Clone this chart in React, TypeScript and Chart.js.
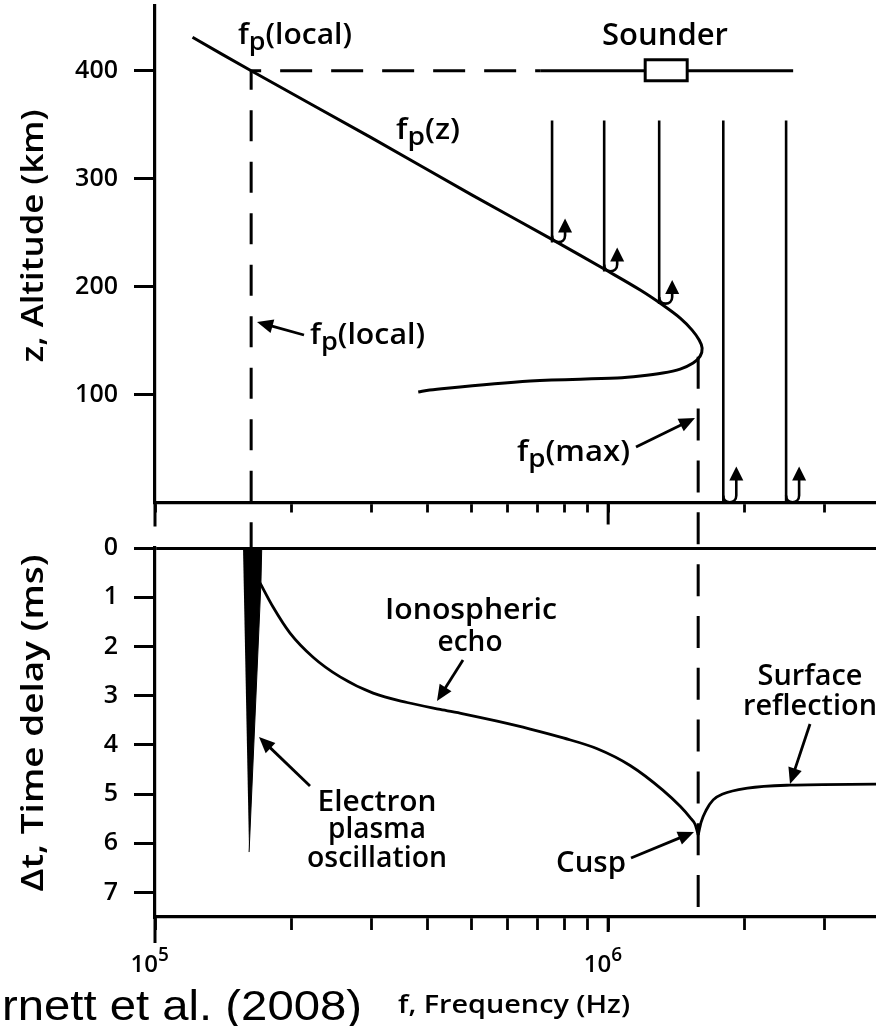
import React, { useEffect, useRef } from "react";
import { Chart, registerables } from "chart.js";

Chart.register(...registerables);

const W = 876;
const H = 1026;
const FONT = '"Open Sans", "DejaVu Sans", sans-serif';
const WEIGHT = "600";

// ---------------- data ----------------
// Frequency axis (Hz, log)
const X_MIN = 1e5;
const X_MAX = 3.9e6;
const X_TICKS = [1e5, 2e5, 3e5, 4e5, 5e5, 6e5, 7e5, 8e5, 9e5, 1e6, 2e6, 3e6];
const X_MAJOR = [1e5, 1e6];
const X_MAJOR_EXP = ["5", "6"];

// Upper panel: altitude (km)
const ALT_MAX = 460;
const ALT_TICKS = [100, 200, 300, 400];
const FPZ_FREQ = [1.21e5, 1.63e5, 3.0e5, 5.0e5, 7.5e5, 1.0e6, 1.177e6, 1.32e6, 1.442e6, 1.532e6, 1.588e6, 1.612e6, 1.596e6, 1.54e6, 1.442e6, 1.32e6, 1.177e6, 1.047e6, 6.73e5, 4.04e5, 3.81e5];
const FPZ_ALT = [431, 400, 338, 285, 244, 214.2, 196.8, 182.9, 170.8, 159.7, 150.5, 143.1, 135.6, 129.2, 123.6, 119.9, 117.1, 115.3, 112.5, 104.2, 102.3];
const FP_LOCAL = 1.63e5;
const FP_MAX = 1.58e6;
const FP_MAX_TOP_ALT = 135;
const GAP_ALT = -42;
const SOUNDER_ALT = 400;
const SOUNDER_FREQ = 1.343e6;
const SOUNDER_LINE_FREQ = [7.08e5, 2.56e6];
const RAY_FREQ = [7.52e5, 9.8e5, 1.296e6, 1.795e6, 2.47e6];
const RAY_TOP_ALT = 354;
const RAY_REFLECT_ALT = [241, 214, 184, 0, 0];

// Lower panel: time delay (ms)
const DELAY_MAX = 7.5;
const DELAY_TICKS = [0, 1, 2, 3, 4, 5, 6, 7];
const WEDGE_FREQ = [1.564e5, 1.72e5, 1.713e5, 1.613e5];
const WEDGE_DELAY = [0, 0, 0.71, 6.18];
const ECHO_FREQ = [1.705e5, 1.822e5, 1.986e5, 2.233e5, 2.562e5, 3.03e5, 3.6e5, 4.26e5, 4.786e5, 5.69e5, 6.73e5, 7.96e5, 9.46e5, 1.118e6, 1.32e6, 1.442e6, 1.517e6, 1.556e6, 1.58e6];
const ECHO_DELAY = [0.71, 1.2, 1.73, 2.22, 2.62, 2.95, 3.14, 3.28, 3.37, 3.52, 3.68, 3.86, 4.08, 4.42, 4.92, 5.25, 5.48, 5.62, 5.83];
const SURF_FREQ = [1.58e6, 1.604e6, 1.645e6, 1.705e6, 1.79e6, 2.03e6, 2.52e6, 3.9e6];
const SURF_DELAY = [5.83, 5.57, 5.33, 5.12, 5.0, 4.88, 4.82, 4.8];

// ---------------- helpers ----------------
type Pt = { x: number; y: number };
const zip = (xs: number[], ys: number[]): Pt[] => xs.map((x, i) => ({ x, y: ys[i] }));

type Run = { t: string; s: number; dy?: number };
type Label = { runs: Run[]; x: number; y: number; align: "left" | "center"; w: number; family?: string; weight?: string; rot?: number };

function drawLabel(ctx: CanvasRenderingContext2D, l: Label) {
  const family = l.family || FONT;
  const weight = l.weight || WEIGHT;
  ctx.save();
  let natural = 0;
  const ws = l.runs.map((r) => {
    ctx.font = `${weight} ${r.s}px ${family}`;
    const w = ctx.measureText(r.t).width;
    natural += w;
    return w;
  });
  const sx = l.w / natural;
  ctx.translate(l.x, l.y);
  if (l.rot) ctx.rotate(l.rot);
  ctx.scale(sx, 1);
  let cx = l.align === "center" ? -natural / 2 : 0;
  ctx.fillStyle = "#000";
  ctx.textAlign = "left";
  ctx.textBaseline = "alphabetic";
  l.runs.forEach((r, i) => {
    ctx.font = `${weight} ${r.s}px ${family}`;
    ctx.fillText(r.t, cx, r.dy || 0);
    cx += ws[i];
  });
  ctx.restore();
}

function drawArrow(ctx: CanvasRenderingContext2D, a: number[], head = 16, half = 7, lw = 2.8) {
  const [x1, y1, x2, y2] = a;
  const ang = Math.atan2(y2 - y1, x2 - x1);
  const c = Math.cos(ang);
  const s = Math.sin(ang);
  ctx.save();
  ctx.strokeStyle = "#000";
  ctx.fillStyle = "#000";
  ctx.lineWidth = lw;
  ctx.beginPath();
  ctx.moveTo(x1, y1);
  ctx.lineTo(x2 - c * head * 0.8, y2 - s * head * 0.8);
  ctx.stroke();
  ctx.beginPath();
  ctx.moveTo(x2, y2);
  ctx.lineTo(x2 - c * head + s * half, y2 - s * head - c * half);
  ctx.lineTo(x2 - c * head - s * half, y2 - s * head + c * half);
  ctx.closePath();
  ctx.fill();
  ctx.restore();
}

const fp = (tail: string, s = 28): Run[] => [
  { t: "f", s },
  { t: "p", s: s - 3, dy: 6 },
  { t: tail, s },
];

const TOP_LABELS: Label[] = [
  { runs: fp("(local)"), x: 238, y: 44, align: "left", w: 114 },
  { runs: fp("(z)"), x: 396, y: 139, align: "left", w: 64 },
  { runs: [{ t: "Sounder", s: 30 }], x: 665, y: 45, align: "center", w: 126 },
  { runs: fp("(local)"), x: 310, y: 344, align: "left", w: 115 },
  { runs: fp("(max)"), x: 517, y: 461, align: "left", w: 113 },
  { runs: [{ t: "z, Altitude (km)", s: 31 }], x: 43, y: 236, align: "center", w: 253, rot: -Math.PI / 2 },
];
const TOP_ARROWS = [
  [304, 335, 257, 322],
  [636, 447, 695, 418],
];

const BOT_LABELS: Label[] = [
  { runs: [{ t: "Ionospheric", s: 28 }], x: 471, y: 619, align: "center", w: 172 },
  { runs: [{ t: "echo", s: 28 }], x: 470, y: 651, align: "center", w: 65 },
  { runs: [{ t: "Surface", s: 28 }], x: 810, y: 685, align: "center", w: 105 },
  { runs: [{ t: "reflection", s: 28 }], x: 810, y: 715, align: "center", w: 134 },
  { runs: [{ t: "Electron", s: 28 }], x: 377, y: 811, align: "center", w: 119 },
  { runs: [{ t: "plasma", s: 28 }], x: 377, y: 838, align: "center", w: 98 },
  { runs: [{ t: "oscillation", s: 28 }], x: 377, y: 867, align: "center", w: 140 },
  { runs: [{ t: "Cusp", s: 28 }], x: 591, y: 872, align: "center", w: 70 },
  { runs: [{ t: "Δt, Time delay (ms)", s: 31 }], x: 43, y: 723, align: "center", w: 337, rot: -Math.PI / 2 },
  { runs: [{ t: "f, Frequency (Hz)", s: 25 }], x: 398, y: 1013, align: "left", w: 232 },
  { runs: [{ t: "rnett et al. (2008)", s: 42 }], x: 2, y: 1020, align: "left", w: 360, family: '"Liberation Sans", Arial, sans-serif', weight: "400" },
];
const BOT_ARROWS = [
  [463, 660, 437, 701],
  [810, 724, 790, 784],
  [310, 786, 259, 737],
  [631, 858, 694, 832],
];

const lineDs = (data: Pt[], extra: any = {}) => ({
  data,
  borderColor: "#000",
  backgroundColor: "#000",
  borderWidth: 3,
  pointRadius: 0,
  pointHoverRadius: 0,
  fill: false,
  tension: 0,
  ...extra,
});

const xScale = (tickLength: number, height: number) => ({
  type: "logarithmic",
  min: X_MIN,
  max: X_MAX,
  afterBuildTicks: (s: any) => {
    s.ticks = X_TICKS.map((v) => ({ value: v }));
  },
  afterFit: (s: any) => {
    s.height = height;
    s.paddingLeft = 0;
    s.paddingRight = 0;
  },
  ticks: { display: false, autoSkip: false },
  grid: { drawOnChartArea: false, drawTicks: true, tickLength, tickWidth: 2.8, tickColor: "#000" },
  border: { display: true, color: "#000", width: 3.2 },
});

const yTickFont = { family: "Open Sans", size: 25, weight: "600" };

function majorTicks(ctx: CanvasRenderingContext2D, chart: any, lens: number[]) {
  const x = chart.scales.x;
  const yb = chart.chartArea.bottom;
  ctx.save();
  ctx.strokeStyle = "#000";
  ctx.lineWidth = 3;
  X_MAJOR.forEach((v, i) => {
    const px = x.getPixelForValue(v);
    ctx.beginPath();
    ctx.moveTo(px, yb);
    ctx.lineTo(px, yb + lens[i]);
    ctx.stroke();
  });
  ctx.restore();
}

const topDecor = {
  id: "topDecor",
  afterDraw(chart: any) {
    const ctx = chart.ctx as CanvasRenderingContext2D;
    const x = chart.scales.x;
    const y = chart.scales.y;
    majorTicks(ctx, chart, [24, 22]);
    // sounder box
    const sx = x.getPixelForValue(SOUNDER_FREQ);
    const sy = y.getPixelForValue(SOUNDER_ALT);
    ctx.save();
    ctx.fillStyle = "#fff";
    ctx.strokeStyle = "#000";
    ctx.lineWidth = 3;
    ctx.fillRect(sx - 21, sy - 11, 42, 21);
    ctx.strokeRect(sx - 21, sy - 11, 42, 21);
    ctx.restore();
    // ray hooks with upward arrows
    RAY_FREQ.forEach((f, i) => {
      const px = x.getPixelForValue(f);
      const yb = y.getPixelForValue(RAY_REFLECT_ALT[i]);
      const ground = RAY_REFLECT_ALT[i] === 0;
      const w = 13;
      const tip = yb - (ground ? 36 : 24);
      ctx.save();
      ctx.strokeStyle = "#000";
      ctx.fillStyle = "#000";
      ctx.lineWidth = 2.6;
      ctx.beginPath();
      ctx.moveTo(px, yb - 7);
      ctx.bezierCurveTo(px, yb + 2, px + w, yb + 2, px + w, yb - 7);
      ctx.lineTo(px + w, tip + 10);
      ctx.stroke();
      ctx.beginPath();
      ctx.moveTo(px + w, tip);
      ctx.lineTo(px + w - 7, tip + 14);
      ctx.lineTo(px + w + 7, tip + 14);
      ctx.closePath();
      ctx.fill();
      ctx.restore();
    });
    TOP_ARROWS.forEach((a) => drawArrow(ctx, a));
    TOP_LABELS.forEach((l) => drawLabel(ctx, l));
  },
};

const botDecor = {
  id: "botDecor",
  afterDraw(chart: any) {
    const ctx = chart.ctx as CanvasRenderingContext2D;
    const x = chart.scales.x;
    majorTicks(ctx, chart, [26, 15]);
    // 10^n labels
    ctx.save();
    ctx.fillStyle = "#000";
    X_MAJOR.forEach((v, i) => {
      const px = x.getPixelForValue(v);
      ctx.font = `${WEIGHT} 24px ${FONT}`;
      ctx.textAlign = "right";
      ctx.fillText("10", px + 3, 972);
      ctx.font = `${WEIGHT} 19px ${FONT}`;
      ctx.textAlign = "left";
      ctx.fillText(X_MAJOR_EXP[i], px + 3, 961);
    });
    ctx.restore();
    BOT_ARROWS.forEach((a) => drawArrow(ctx, a));
    BOT_LABELS.forEach((l) => drawLabel(ctx, l));
  },
};

function topConfig(): any {
  return {
    type: "line",
    data: {
      datasets: [
        lineDs(zip(FPZ_FREQ, FPZ_ALT), { tension: 0.35 }),
        lineDs([{ x: FP_LOCAL, y: SOUNDER_ALT }, { x: FP_LOCAL, y: GAP_ALT }], { borderDash: [31, 20.5], borderDashOffset: 12, clip: false }),
        lineDs([{ x: FP_LOCAL, y: SOUNDER_ALT }, { x: SOUNDER_LINE_FREQ[0], y: SOUNDER_ALT }], { borderDash: [32, 19], borderDashOffset: 22 }),
        lineDs(zip(SOUNDER_LINE_FREQ, [SOUNDER_ALT, SOUNDER_ALT])),
        lineDs([{ x: FP_MAX, y: FP_MAX_TOP_ALT }, { x: FP_MAX, y: GAP_ALT }], { borderDash: [32, 19.8], clip: false }),
        ...RAY_FREQ.map((f, i) => lineDs([{ x: f, y: RAY_TOP_ALT }, { x: f, y: RAY_REFLECT_ALT[i] }], { borderWidth: 2.6 })),
      ],
    },
    options: {
      animation: false,
      responsive: false,
      devicePixelRatio: 1,
      events: [],
      layout: { padding: { top: 6, left: 0, right: 0, bottom: 0 } },
      plugins: { legend: { display: false }, tooltip: { enabled: false } },
      scales: {
        x: xScale(10, H - 502.5),
        y: {
          type: "linear",
          min: 0,
          max: ALT_MAX,
          afterBuildTicks: (s: any) => {
            s.ticks = ALT_TICKS.map((v) => ({ value: v }));
          },
          afterFit: (s: any) => {
            s.width = 155;
            s.paddingTop = 0;
            s.paddingBottom = 0;
          },
          ticks: { color: "#000", font: yTickFont, padding: 16, callback: (v: any) => String(v) },
          grid: { drawOnChartArea: false, drawTicks: true, tickLength: 21, tickWidth: 3, tickColor: "#000" },
          border: { display: true, color: "#000", width: 3.2 },
        },
      },
    },
    plugins: [topDecor],
  };
}

function botConfig(): any {
  return {
    type: "line",
    data: {
      datasets: [
        lineDs(zip(WEDGE_FREQ, WEDGE_DELAY), { fill: "shape", borderWidth: 1 }),
        lineDs(zip(ECHO_FREQ, ECHO_DELAY), { cubicInterpolationMode: "monotone", borderWidth: 2.8 }),
        lineDs(zip(SURF_FREQ, SURF_DELAY), { cubicInterpolationMode: "monotone", borderWidth: 2.8 }),
        lineDs([{ x: FP_MAX, y: 0 }, { x: FP_MAX, y: DELAY_MAX }], { borderDash: [32, 19.8], borderDashOffset: 35.6 }),
      ],
    },
    options: {
      animation: false,
      responsive: false,
      devicePixelRatio: 1,
      events: [],
      layout: { padding: { top: 548, left: 0, right: 0, bottom: 0 } },
      plugins: { legend: { display: false }, tooltip: { enabled: false } },
      scales: {
        x: xScale(13, H - 917),
        y: {
          type: "linear",
          reverse: true,
          min: 0,
          max: DELAY_MAX,
          afterBuildTicks: (s: any) => {
            s.ticks = DELAY_TICKS.map((v) => ({ value: v }));
          },
          afterFit: (s: any) => {
            s.width = 155;
            s.paddingTop = 0;
            s.paddingBottom = 0;
          },
          ticks: { color: "#000", font: yTickFont, padding: 16, callback: (v: any) => String(v) },
          grid: {
            drawOnChartArea: true,
            color: (c: any) => (c.tick && c.tick.value === 0 ? "#000" : "rgba(0,0,0,0)"),
            lineWidth: 3,
            drawTicks: true,
            tickLength: 21,
            tickWidth: 3,
            tickColor: "#000",
          },
          border: { display: true, color: "#000", width: 3.2 },
        },
      },
    },
    plugins: [botDecor],
  };
}

export default function App() {
  const topRef = useRef<HTMLCanvasElement>(null);
  const botRef = useRef<HTMLCanvasElement>(null);
  useEffect(() => {
    const c1 = new Chart(topRef.current as HTMLCanvasElement, topConfig());
    const c2 = new Chart(botRef.current as HTMLCanvasElement, botConfig());
    return () => {
      c1.destroy();
      c2.destroy();
    };
  }, []);
  return (
    <div style={{ position: "absolute", left: 0, top: 0, width: W, height: H, background: "#fff", overflow: "hidden" }}>
      <canvas ref={topRef} width={W} height={H} style={{ position: "absolute", left: 0, top: 0 }} />
      <canvas ref={botRef} width={W} height={H} style={{ position: "absolute", left: 0, top: 0 }} />
    </div>
  );
}
